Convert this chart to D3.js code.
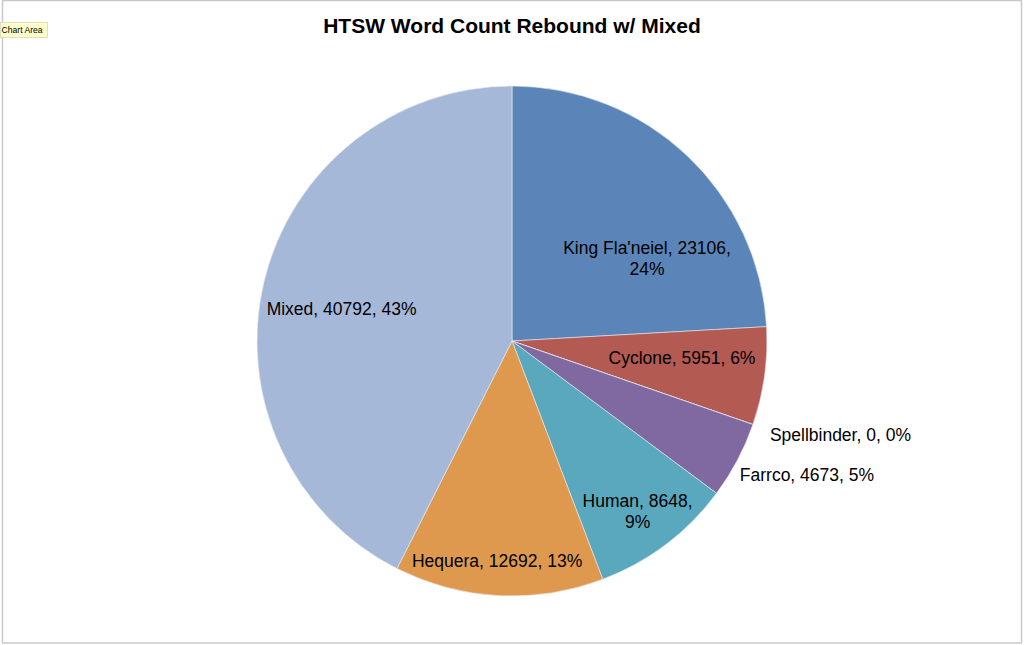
<!DOCTYPE html>
<html><head><meta charset="utf-8">
<script src="https://cdn.jsdelivr.net/npm/d3@7"></script>
<style>html,body{margin:0;padding:0;background:#fff;overflow:hidden}</style>
</head><body>
<svg id="c" width="1024" height="645"></svg>
<script>
const categories = ["King Fla'neiel", "Cyclone", "Spellbinder", "Farrco", "Human", "Hequera", "Mixed"];
const values = [23106, 5951, 0, 4673, 8648, 12692, 40792];
const colors = ["#5B85B8", "#B35A52", "#9BBB59", "#8069A1", "#5AA8BE", "#DE994F", "#A6B8D8"];
const title = "HTSW Word Count Rebound w/ Mixed";
// label layout tweaks (radius fraction, angle offset in degrees), Excel "best fit"-like
const labelRadius = [0.62, 0.67, 1.34, 1.27, 0.83, 0.865, 0.68];
const labelAngleShift = [15.3, -2.2, -3.1, -3.5, 0.7, 0.9, -2.8];
const labelWrap = [true, false, false, false, true, false, false];

const svg = d3.select("#c");
const FONT = "Liberation Sans, Arial, sans-serif";
// frame
svg.append("rect").attr("x", 2.5).attr("y", 0.5).attr("width", 1019).attr("height", 642.5)
  .attr("fill", "#fff").attr("stroke", "#c9c9c9").attr("stroke-width", 1.5);

svg.append("text").attr("x", 512).attr("y", 33).attr("text-anchor", "middle")
  .attr("font-family", FONT).attr("font-weight", "bold")
  .attr("font-size", 21).attr("fill", "#000").text(title);

const cx = 512, cy = 341, R = 255;
const total = d3.sum(values);
const pie = d3.pie().sort(null).value(d => d.v);
const data = categories.map((c, i) => ({c, v: values[i], i}));
const arcs = pie(data);
const colorScale = d3.scaleOrdinal().domain(categories).range(colors);
const arc = d3.arc().innerRadius(0).outerRadius(R);
const g = svg.append("g").attr("transform", `translate(${cx},${cy})`);
g.selectAll("path").data(arcs).join("path")
  .attr("d", arc).attr("fill", d => colorScale(d.data.c))
  .attr("stroke", "#e8ecf3").attr("stroke-width", 0.6);

const lg = g.append("g").attr("font-family", FONT)
  .attr("font-size", 17.5).attr("fill", "#000").attr("text-anchor", "middle");
arcs.forEach(d => {
  const i = d.data.i;
  const mid = (d.startAngle + d.endAngle) / 2 + labelAngleShift[i] * Math.PI / 180;
  const r = R * labelRadius[i];
  const x = r * Math.sin(mid), y = -r * Math.cos(mid);
  const p = Math.round(d.data.v / total * 100) + "%";
  const t = lg.append("text").attr("x", x).attr("y", y);
  if (labelWrap[i]) {
    t.append("tspan").attr("x", x).attr("dy", "-0.25em").text(`${d.data.c}, ${d.data.v},`);
    t.append("tspan").attr("x", x).attr("dy", "1.2em").text(p);
  } else {
    t.attr("dy", "0.35em").text(`${d.data.c}, ${d.data.v}, ${p}`);
  }
});

// "Chart Area" tooltip
const tip = svg.append("g");
tip.append("rect").attr("x", 0.5).attr("y", 22.5).attr("width", 47).attr("height", 15)
  .attr("fill", "#FFFFCC").attr("stroke", "#d8d8b0").attr("stroke-width", 0.8);
tip.append("text").attr("x", 1.5).attr("y", 33).attr("font-family", FONT)
  .attr("font-size", 8.6).attr("fill", "#000").text("Chart Area");
</script>
</body></html>
